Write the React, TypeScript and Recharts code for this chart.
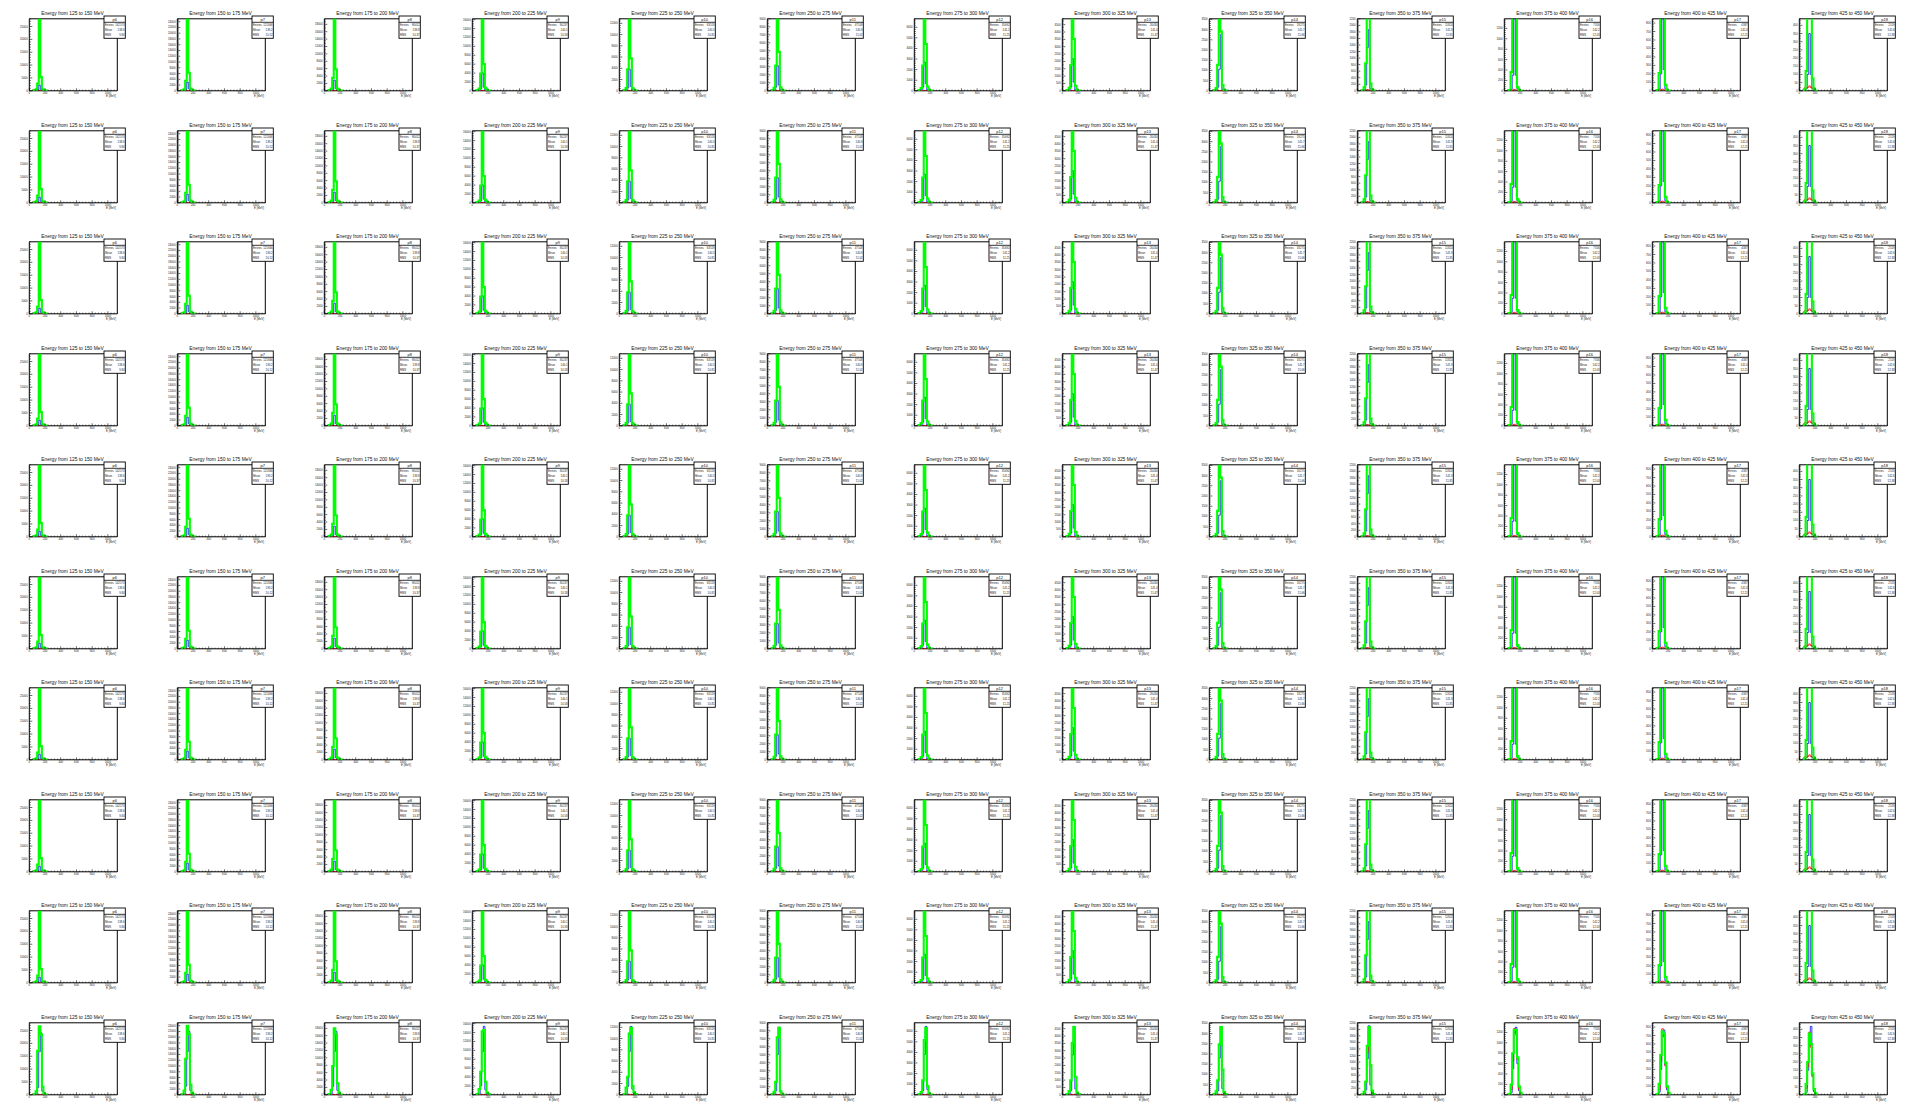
import { ComposedChart, Line, XAxis, YAxis, ReferenceArea } from "recharts"

// grid: 10 identical rows of 13 energy slices, last row is the fitted/normalised version
const ROWS = 10
const COLS = 13

const energyFrom = [125, 150, 175, 200, 225, 250, 275, 300, 325, 350, 375, 400, 425]
const histNames = ["p6", "p7", "p8", "p9", "p10", "p11", "p12", "p13", "p14", "p15", "p16", "p17", "p18"]
const yMax = [28000, 25000, 19500, 16200, 12800, 9000, 6800, 4900, 3530, 2200, 1385, 850, 440]
const yStep = [5000, 2000, 2000, 2000, 2000, 1000, 1000, 500, 500, 200, 200, 100, 50]
const entries = [142573, 121846, 98412, 80237, 63519, 47108, 35692, 26430, 18275, 11824, 7316, 4387, 2519]
const means = [138.6, 139.2, 139.8, 140.1, 140.5, 140.9, 141.2, 141.4, 141.7, 141.9, 142.2, 142.4, 142.6]
const rmsValues = [9.84, 10.12, 10.37, 10.58, 10.81, 11.02, 11.25, 11.47, 11.66, 11.85, 12.03, 12.21, 12.38]

// x axis in MeV, 20 MeV bins; arrays below start at bin 2 (40 MeV)
const X_MAX = 1120
const BIN_WIDTH = 20
const FIRST_BIN = 2
const xTicks = [0, 40, 80, 120, 160, 200, 240, 280, 320, 360, 400, 440, 480, 520, 560, 600, 640, 680, 720, 760, 800, 840, 880, 920, 960, 1000, 1040, 1080, 1120]
const xLabels = [0, 200, 400, 600, 800, 1000]

// rows 1-9
const greenMain = [
  [0, 280, 560, 2800, 42000, 5300, 560, 280, 140, 0, 0],
  [0, 250, 500, 3500, 37500, 6250, 750, 250, 125, 0, 0],
  [0, 195, 585, 3510, 29250, 5850, 585, 195, 100, 0, 0],
  [0, 160, 490, 3890, 24300, 6000, 650, 160, 80, 0, 0],
  [0, 130, 510, 3840, 19200, 5760, 510, 130, 60, 0, 0],
  [0, 90, 360, 3150, 13500, 4860, 450, 90, 45, 0, 0],
  [0, 70, 270, 2380, 10200, 4420, 410, 70, 35, 0, 0],
  [0, 50, 200, 1760, 7350, 3530, 340, 50, 25, 0, 0],
  [0, 35, 140, 1270, 5300, 2900, 280, 35, 18, 0, 0],
  [0, 22, 110, 840, 3300, 2860, 220, 44, 11, 0, 0],
  [0, 14, 360, 2080, 2080, 2080, 70, 14, 0, 0, 0],
  [0, 8, 210, 1280, 1280, 1280, 70, 10, 0, 0, 0],
  [0, 9, 120, 660, 660, 660, 75, 13, 0, 0, 0],
]
const blueMain = [
  [0, 0, 140, 280, 2200, 560, 140, 0, 0, 0, 0],
  [0, 0, 125, 500, 3000, 750, 125, 0, 0, 0, 0],
  [0, 0, 100, 400, 2900, 600, 100, 0, 0, 0, 0],
  [0, 0, 160, 490, 4050, 810, 160, 0, 0, 0, 0],
  [0, 0, 130, 510, 3840, 770, 130, 0, 0, 0, 0],
  [0, 0, 90, 450, 3150, 720, 90, 0, 0, 0, 0],
  [0, 0, 70, 340, 2720, 680, 70, 0, 0, 0, 0],
  [0, 0, 50, 250, 2200, 590, 50, 0, 0, 0, 0],
  [0, 0, 35, 175, 1060, 2750, 70, 0, 0, 0, 0],
  [0, 0, 22, 176, 1320, 1870, 66, 0, 0, 0, 0],
  [0, 0, 28, 300, 2080, 300, 42, 0, 0, 0, 0],
  [0, 0, 20, 200, 1280, 250, 25, 0, 0, 0, 0],
  [0, 2, 13, 100, 350, 100, 13, 2, 0, 0, 0],
]
const redMain = [
  [0, 0, 0, 0, 60, 20, 0, 0, 0, 0, 0],
  [0, 0, 0, 0, 50, 20, 0, 0, 0, 0, 0],
  [0, 0, 0, 0, 40, 15, 0, 0, 0, 0, 0],
  [0, 0, 0, 0, 40, 15, 0, 0, 0, 0, 0],
  [0, 0, 0, 0, 30, 10, 0, 0, 0, 0, 0],
  [0, 0, 0, 0, 25, 10, 0, 0, 0, 0, 0],
  [0, 0, 0, 0, 20, 10, 0, 0, 0, 0, 0],
  [0, 0, 0, 0, 15, 8, 0, 0, 0, 0, 0],
  [0, 0, 0, 0, 10, 8, 0, 0, 0, 0, 0],
  [0, 0, 0, 20, 40, 30, 0, 0, 0, 0, 0],
  [0, 0, 7, 14, 28, 14, 7, 0, 0, 0, 0],
  [0, 0, 8, 12, 20, 10, 6, 0, 0, 0, 0],
  [0, 18, 15, 20, 30, 20, 15, 18, 0, 0, 0],
]

// row 10
const greenLast = [
  [0, 280, 1400, 17100, 26600, 23500, 3100, 560, 140, 0, 0],
  [0, 250, 1500, 12500, 24000, 21000, 3500, 750, 125, 0, 0],
  [0, 195, 1365, 7800, 18000, 16400, 3120, 585, 100, 0, 0],
  [0, 160, 1300, 5180, 14260, 14580, 2920, 490, 160, 0, 0],
  [0, 130, 1280, 3200, 10880, 11900, 1540, 510, 130, 0, 0],
  [0, 90, 360, 1620, 7200, 8370, 450, 90, 0, 0, 0],
  [0, 70, 270, 1360, 5170, 6320, 820, 140, 35, 0, 0],
  [0, 50, 250, 980, 3530, 4610, 1230, 150, 50, 0, 0],
  [0, 35, 175, 710, 2470, 3320, 1240, 140, 35, 0, 0],
  [0, 22, 90, 400, 1500, 2070, 900, 130, 22, 0, 0],
  [0, 14, 195, 800, 1250, 1250, 720, 160, 40, 0, 0],
  [0, 8, 130, 470, 750, 720, 380, 100, 25, 0, 0],
  [0, 4, 66, 200, 375, 310, 130, 35, 9, 0, 0],
]
const blueLast = [
  [0, 0, 280, 2800, 16800, 24100, 1400, 280, 0, 0, 0],
  [0, 0, 250, 3000, 15000, 22000, 1500, 250, 0, 0, 0],
  [0, 0, 200, 2300, 11700, 17200, 1200, 200, 0, 0, 0],
  [0, 0, 160, 2000, 9700, 15400, 1100, 160, 0, 0, 0],
  [0, 0, 130, 1500, 7700, 12160, 1000, 130, 0, 0, 0],
  [0, 0, 90, 500, 5000, 8460, 360, 90, 0, 0, 0],
  [0, 0, 70, 400, 3800, 6460, 500, 70, 0, 0, 0],
  [0, 0, 50, 300, 2700, 4660, 400, 50, 0, 0, 0],
  [0, 0, 35, 200, 1800, 3350, 300, 35, 0, 0, 0],
  [0, 0, 22, 150, 1100, 2110, 300, 22, 0, 0, 0],
  [0, 0, 40, 500, 1200, 1300, 600, 80, 0, 0, 0],
  [0, 0, 30, 300, 700, 765, 350, 60, 0, 0, 0],
  [0, 4, 15, 150, 300, 418, 120, 20, 0, 0, 0],
]
const redLast = [
  [0, 0, 0, 0, 100, 80, 0, 0, 0, 0, 0],
  [0, 0, 0, 0, 90, 70, 0, 0, 0, 0, 0],
  [0, 0, 0, 0, 80, 60, 0, 0, 0, 0, 0],
  [0, 0, 0, 0, 70, 50, 0, 0, 0, 0, 0],
  [0, 0, 0, 0, 60, 40, 0, 0, 0, 0, 0],
  [0, 0, 0, 0, 40, 30, 0, 0, 0, 0, 0],
  [0, 0, 0, 0, 30, 20, 0, 0, 0, 0, 0],
  [0, 0, 0, 0, 25, 15, 0, 0, 0, 0, 0],
  [0, 0, 0, 0, 20, 12, 0, 0, 0, 0, 0],
  [0, 0, 20, 420, 1300, 1950, 920, 60, 0, 0, 0],
  [0, 0, 100, 650, 1275, 1150, 680, 100, 0, 0, 0],
  [0, 0, 60, 400, 780, 680, 340, 80, 0, 0, 0],
  [0, 3, 40, 170, 383, 290, 110, 25, 5, 0, 0],
]

// panel geometry (ROOT pad)
const CELL_W = 1918 / COLS
const CELL_H = 1115 / ROWS
const PANEL_W = 148
const PANEL_H = 112
const PLOT_LEFT = 29.3
const PLOT_TOP = 18.8
const PLOT_W = 88
const PLOT_H = 72
const FONT = "'Liberation Sans', Arial, Helvetica, sans-serif"

function buildData(g: number[], b: number[], r: number[]) {
  const rows: any[] = []
  for (let i = 0; i <= X_MAX / BIN_WIDTH; i++) {
    const k = i - FIRST_BIN
    const inside = k >= 0 && k < g.length
    rows.push({
      e: i * BIN_WIDTH,
      g: inside ? g[k] : null,
      b: inside ? b[k] : null,
      r: inside ? r[k] : null,
    })
  }
  return rows
}

function yTicksFor(col: number) {
  const minor = yStep[col] / 5
  const ticks: number[] = []
  for (let v = 0; v <= yMax[col]; v += minor) ticks.push(v)
  return ticks
}

function XTick({ x, y, payload }: any) {
  const v = payload.value
  const major = xLabels.includes(v)
  return (
    <g>
      <line x1={x} x2={x} y1={y} y2={y - (major ? 2.5 : 1.2)} stroke="#000" strokeWidth={0.6} />
      {major && (
        <text x={x} y={y + 2.9} textAnchor="middle" fontSize={2.8} fontFamily={FONT} fill="#222">
          {v}
        </text>
      )}
    </g>
  )
}

function YTick({ x, y, payload, step }: any) {
  const v = payload.value
  const major = Math.abs(v / step - Math.round(v / step)) < 1e-6
  return (
    <g>
      <line x1={x} x2={x + (major ? 3 : 1.5)} y1={y} y2={y} stroke="#000" strokeWidth={0.6} />
      {major && (
        <text x={x - 1.6} y={y + 1} textAnchor="end" fontSize={2.8} fontFamily={FONT} fill="#222">
          {Math.round(v)}
        </text>
      )}
    </g>
  )
}

function Panel({ row, col }: { row: number; col: number }) {
  const last = row === ROWS - 1
  const data = last
    ? buildData(greenLast[col], blueLast[col], redLast[col])
    : buildData(greenMain[col], blueMain[col], redMain[col])
  const step = yStep[col]

  return (
    <div
      style={{
        position: "absolute",
        left: col * CELL_W,
        top: row * CELL_H,
        width: PANEL_W,
        height: PANEL_H,
      }}
    >
      <ComposedChart
        width={PANEL_W}
        height={PANEL_H}
        data={data}
        margin={{ top: PLOT_TOP, right: PANEL_W - PLOT_LEFT - PLOT_W, left: 0, bottom: 0 }}
      >
        <XAxis
          dataKey="e"
          type="number"
          domain={[0, X_MAX]}
          ticks={xTicks}
          interval={0}
          tickSize={0}
          tickMargin={0}
          axisLine={false}
          height={PANEL_H - PLOT_TOP - PLOT_H}
          tick={(p: any) => <XTick {...p} />}
          allowDataOverflow
        />
        <YAxis
          type="number"
          domain={[0, yMax[col]]}
          ticks={yTicksFor(col)}
          interval={0}
          tickSize={0}
          tickMargin={0}
          axisLine={false}
          width={PLOT_LEFT}
          tick={(p: any) => <YTick {...p} step={step} />}
          allowDataOverflow
        />
        <Line type="stepAfter" dataKey="b" stroke="#0000ff" strokeWidth={0.8} dot={false} isAnimationActive={false} />
        <Line type="stepAfter" dataKey="r" stroke="#ff0000" strokeWidth={0.8} dot={false} isAnimationActive={false} />
        <Line type="stepAfter" dataKey="g" stroke="#00ff00" strokeWidth={2.1} dot={false} isAnimationActive={false} />
        <ReferenceArea x1={0} x2={X_MAX} y1={0} y2={yMax[col]} fill="none" stroke="#000" strokeWidth={1} />
      </ComposedChart>

      <svg
        width={PANEL_W}
        height={PANEL_H}
        style={{ position: "absolute", left: 0, top: 0, pointerEvents: "none" }}
      >
        <text x={72.5} y={15.3} textAnchor="middle" fontSize={4.9} fontFamily={FONT} fill="#111">
          {`Energy from ${energyFrom[col]} to ${energyFrom[col] + 25} MeV`}
        </text>
        <rect x={104} y={16} width={21.3} height={22.3} fill="#fff" stroke="#000" strokeWidth={0.9} />
        <line x1={104} x2={125.3} y1={22.3} y2={22.3} stroke="#000" strokeWidth={0.8} />
        <text x={114.7} y={21.2} textAnchor="middle" fontSize={4} fontFamily={FONT} fill="#111">
          {histNames[col]}
        </text>
        <text x={105} y={25.8} fontSize={2.8} fontFamily={FONT} fill="#222">Entries</text>
        <text x={124.6} y={25.8} textAnchor="end" fontSize={2.8} fontFamily={FONT} fill="#222">{entries[col]}</text>
        <text x={105} y={30.8} fontSize={2.8} fontFamily={FONT} fill="#222">Mean</text>
        <text x={124.6} y={30.8} textAnchor="end" fontSize={2.8} fontFamily={FONT} fill="#222">{means[col]}</text>
        <text x={105} y={35.8} fontSize={2.8} fontFamily={FONT} fill="#222">RMS</text>
        <text x={124.6} y={35.8} textAnchor="end" fontSize={2.8} fontFamily={FONT} fill="#222">{rmsValues[col]}</text>
        <text x={116} y={97} textAnchor="end" fontSize={2.8} fontFamily={FONT} fill="#222">E [MeV]</text>
      </svg>
    </div>
  )
}

export default function App() {
  const cells: { row: number; col: number }[] = []
  for (let row = 0; row < ROWS; row++) {
    for (let col = 0; col < COLS; col++) cells.push({ row, col })
  }
  return (
    <div
      style={{
        position: "absolute",
        left: 0,
        top: 0,
        width: 1918,
        height: 1115,
        background: "#fff",
        overflow: "hidden",
      }}
    >
      {cells.map(({ row, col }) => (
        <Panel key={`${row}-${col}`} row={row} col={col} />
      ))}
    </div>
  )
}
